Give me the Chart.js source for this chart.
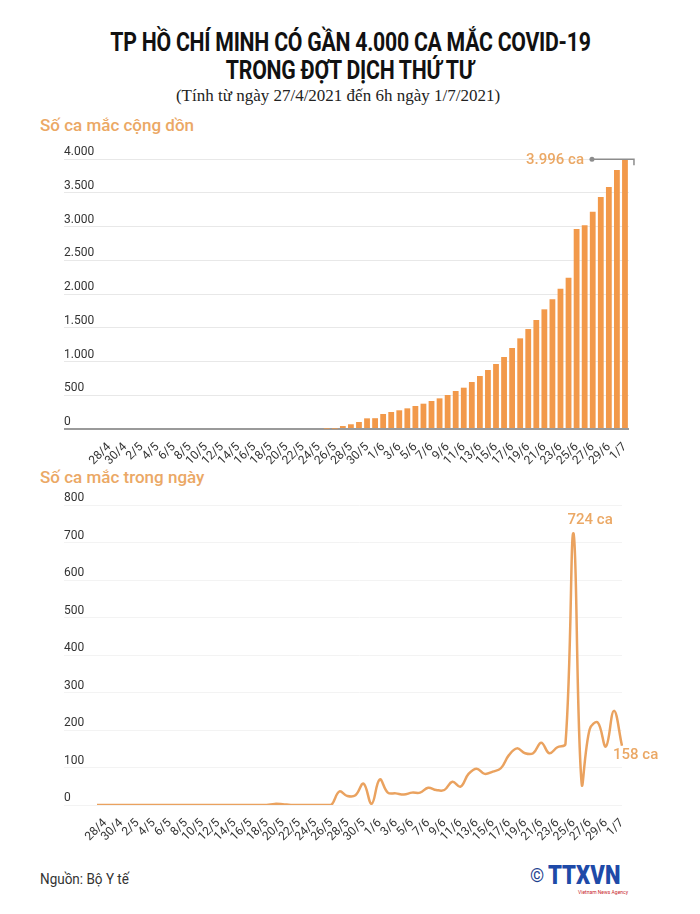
<!DOCTYPE html>
<html lang="vi">
<head>
<meta charset="utf-8">
<title>TP HCM - COVID-19 đợt 4</title>
<script src="https://cdn.jsdelivr.net/npm/chart.js@4.4.1/dist/chart.umd.min.js"></script>
<style>
  html, body { margin: 0; padding: 0; background: #fff; }
  body { width: 700px; height: 914px; position: relative; overflow: hidden; font-family: Roboto, "Noto Sans", sans-serif; }
  .title { position: absolute; left: 0; width: 700px; top: 29px; text-align: center; font-family: Roboto, sans-serif; font-weight: bold; font-size: 25px; line-height: 28px; color: #111; }
  .title span { display: inline-block; transform: scaleX(0.85); transform-origin: center; white-space: nowrap; letter-spacing: -0.3px; }
  .sub { position: absolute; left: 0; width: 676px; top: 86px; text-align: center; font-family: "Liberation Serif", serif; font-size: 17px; color: #222; }
  .head { position: absolute; left: 40px; font-size: 17px; font-weight: 500; color: #eba865; }
  .src { position: absolute; left: 40px; top: 870px; font-size: 15px; color: #333; transform: scaleX(0.9); transform-origin: left; }
  .logo { position: absolute; left: 530px; top: 860px; width: 140px; }
  .logo .c { font-size: 18px; color: #1d3f8f; vertical-align: middle; }
  .logo .t { display: inline-block; font-family: Roboto, sans-serif; font-weight: 900; font-size: 26px; color: #1e4aa8; vertical-align: middle; transform: scaleX(0.85); transform-origin: left; }
  .logo .a { position: absolute; left: 48px; top: 29px; font-size: 5px; color: #c8262c; }
  canvas { position: absolute; }
</style>
</head>
<body>
<div class="title"><span>TP HỒ CHÍ MINH CÓ GẦN 4.000 CA MẮC COVID-19</span><br><span>TRONG ĐỢT DỊCH THỨ TƯ</span></div>
<div class="sub">(Tính từ ngày 27/4/2021 đến 6h ngày 1/7/2021)</div>
<div class="head" style="top:115px">Số ca mắc cộng dồn</div>
<div class="head" style="top:467px">Số ca mắc trong ngày</div>
<div class="src">Nguồn: Bộ Y tế</div>
<div class="logo"><span class="c">©</span> <span class="t">TTXVN</span><span class="a">Vietnam News Agency</span></div>

<div style="position:absolute;left:60px;top:130px;width:580px;height:344px"><canvas id="congDonChart"></canvas></div>
<div style="position:absolute;left:60px;top:480px;width:620px;height:370px"><canvas id="trongNgayChart"></canvas></div>

<script>
// === Dữ liệu ===
const ngay = [
  '27/4', '28/4', '29/4', '30/4',
  '1/5', '2/5', '3/5', '4/5', '5/5', '6/5', '7/5', '8/5', '9/5', '10/5',
  '11/5', '12/5', '13/5', '14/5', '15/5', '16/5', '17/5', '18/5', '19/5', '20/5',
  '21/5', '22/5', '23/5', '24/5', '25/5', '26/5', '27/5', '28/5', '29/5', '30/5', '31/5',
  '1/6', '2/6', '3/6', '4/6', '5/6', '6/6', '7/6', '8/6', '9/6', '10/6',
  '11/6', '12/6', '13/6', '14/6', '15/6', '16/6', '17/6', '18/6', '19/6', '20/6',
  '21/6', '22/6', '23/6', '24/6', '25/6', '26/6', '27/6', '28/6', '29/6', '30/6',
  '1/7'
];

// Số ca mắc cộng dồn
const congDon = [
  0, 0, 0, 0, 0, 0, 0, 0, 0, 0, 0, 0, 0, 0, 0, 0, 0, 0, 0, 0, 0, 0,
  0, 0, 0, 0, 0, 0, 5, 5,
  44, 70, 104, 158, 160, 222, 252, 277, 306, 341, 375, 415, 454, 504, 563, 612,
  696, 785, 874, 963, 1067, 1200, 1343, 1481, 1615, 1773, 1921, 2079, 2242,
  2963, 3020, 3218, 3437, 3585, 3838, 3996
];

// Số ca mắc trong ngày
const trongNgay = [
  0, 0, 0, 0, 0, 0, 0, 0, 0, 0, 0, 0, 0, 0, 0, 0, 0, 0, 0, 0, 0, 0,
  3, 2, 0, 0, 0, 0, 0, 0,
  36, 24, 26, 57, 3, 68, 33, 31, 28, 33, 33, 46, 40, 40, 62, 49,
  83, 97, 83, 89, 98, 133, 151, 138, 138, 166, 138, 154, 163,
  724, 58, 202, 220, 156, 251, 158
];

const yTicksCongDon = [0, 500, 1000, 1500, 2000, 2500, 3000, 3500, 4000];
const yTicksTrongNgay = [0, 100, 200, 300, 400, 500, 600, 700, 800];

const CAM = '#f2994a';
const CAM_NHAT = '#eba865';
const fmt = (v) => v.toLocaleString('de-DE');

// nhãn trục x: chỉ hiện ngày lẻ (28/4, 30/4, 2/5 ...)
const xTickCallback = function (value, index) {
  return index % 2 === 1 ? ngay[index] : null;
};

function yAxis(ticksList, max, gridColor, zeroColor) {
  return {
    min: 0,
    max: max,
    afterBuildTicks: (scale) => { scale.ticks = ticksList.map(v => ({ value: v })); },
    afterFit: (scale) => { scale.width = 33; },
    border: { display: false },
    grid: {
      drawTicks: true,
      tickLength: 33,
      color: (ctx) => ctx.tick && ctx.tick.value === 0 ? zeroColor : gridColor,
      lineWidth: (ctx) => ctx.tick && ctx.tick.value === 0 && zeroColor !== gridColor ? 2 : 1
    },
    ticks: {
      crossAlign: 'far',
      padding: -33,
      labelOffset: -7,
      color: '#333',
      font: { family: 'Roboto', size: 12 },
      callback: (v) => fmt(v)
    }
  };
}

function xAxis(offset) {
  return {
    offset: offset,
    afterFit: (scale) => { scale.height = 45; },
    border: { display: false },
    grid: { display: false },
    ticks: {
      autoSkip: false,
      minRotation: 45,
      maxRotation: 45,
      padding: 3,
      color: '#333',
      font: { family: 'Roboto', size: 12 },
      callback: xTickCallback
    }
  };
}

// === Chú thích 3.996 ca ===
const nhanCongDon = {
  id: 'nhanCongDon',
  afterDatasetsDraw(chart) {
    const bar = chart.getDatasetMeta(0).data[congDon.length - 1];
    const { ctx } = chart;
    const y = chart.scales.y.getPixelForValue(congDon[congDon.length - 1]);
    const x0 = bar.x - 33;
    ctx.save();
    ctx.strokeStyle = '#8c8c8c';
    ctx.fillStyle = '#8c8c8c';
    ctx.lineWidth = 1.5;
    ctx.beginPath();
    ctx.moveTo(x0, y);
    ctx.lineTo(bar.x + 9, y);
    ctx.lineTo(bar.x + 9, y + 6);
    ctx.stroke();
    ctx.beginPath();
    ctx.arc(x0, y, 2.5, 0, Math.PI * 2);
    ctx.fill();
    ctx.font = '500 15px Roboto';
    ctx.fillStyle = CAM_NHAT;
    ctx.textAlign = 'right';
    ctx.textBaseline = 'middle';
    ctx.fillText(fmt(congDon[congDon.length - 1]) + ' ca', x0 - 8, y + 1);
    ctx.restore();
  }
};

// === Chú thích 724 ca / 158 ca ===
const nhanTrongNgay = {
  id: 'nhanTrongNgay',
  afterDatasetsDraw(chart) {
    const meta = chart.getDatasetMeta(0);
    const { ctx } = chart;
    const iMax = trongNgay.indexOf(Math.max(...trongNgay));
    const pMax = meta.data[iMax];
    const pLast = meta.data[trongNgay.length - 1];
    ctx.save();
    ctx.font = '500 15px Roboto';
    ctx.fillStyle = CAM_NHAT;
    ctx.textAlign = 'left';
    ctx.textBaseline = 'bottom';
    ctx.fillText(trongNgay[iMax] + ' ca', pMax.x - 6, pMax.y - 6);
    ctx.textBaseline = 'middle';
    ctx.fillText(trongNgay[trongNgay.length - 1] + ' ca', pLast.x - 9, pLast.y + 9);
    ctx.restore();
  }
};

// === Biểu đồ cột: số ca cộng dồn ===
new Chart(document.getElementById('congDonChart'), {
  type: 'bar',
  data: {
    labels: ngay,
    datasets: [{
      data: congDon,
      backgroundColor: CAM,
      borderWidth: 0,
      barPercentage: 0.72,
      categoryPercentage: 1
    }]
  },
  options: {
    responsive: true,
    maintainAspectRatio: false,
    animation: false,
    layout: { padding: { left: 4, right: 11, top: 29, bottom: 0 } },
    plugins: { legend: { display: false }, tooltip: { enabled: false } },
    scales: {
      x: xAxis(true),
      y: yAxis(yTicksCongDon, 4000, '#e8e8e8', '#9a9a9a')
    }
  },
  plugins: [nhanCongDon]
});

// === Biểu đồ đường: số ca trong ngày ===
new Chart(document.getElementById('trongNgayChart'), {
  type: 'line',
  data: {
    labels: ngay,
    datasets: [{
      data: trongNgay,
      borderColor: '#eaa25f',
      borderWidth: 2.5,
      pointRadius: 0,
      tension: 0.4,
      fill: false
    }]
  },
  options: {
    responsive: true,
    maintainAspectRatio: false,
    animation: false,
    layout: { padding: { left: 4, right: 58, top: 25, bottom: 0 } },
    plugins: { legend: { display: false }, tooltip: { enabled: false } },
    scales: {
      x: xAxis(false),
      y: yAxis(yTicksTrongNgay, 800, '#f3f3f3', '#f3f3f3')
    }
  },
  plugins: [nhanTrongNgay]
});
</script>
</body>
</html>
